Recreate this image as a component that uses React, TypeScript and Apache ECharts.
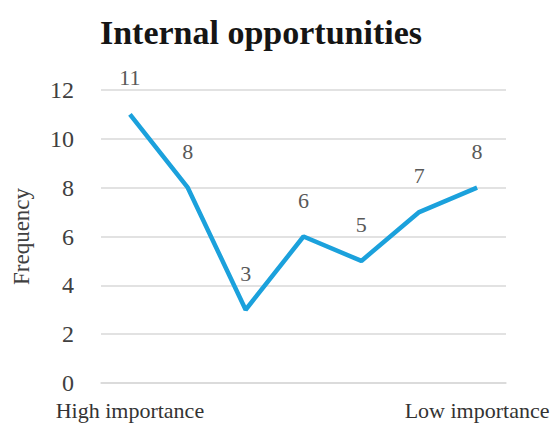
import React, { useEffect, useRef } from "react";
import * as echarts from "echarts";

const categories = ["High importance", "", "", "", "", "", "Low importance"];
const frequency = [11, 8, 3, 6, 5, 7, 8];
const yTicks = { min: 0, max: 12, interval: 2 };

const FONT = "'Liberation Serif', 'DejaVu Serif', serif";

export default function App() {
  const ref = useRef<HTMLDivElement>(null);
  useEffect(() => {
    if (!ref.current) return;
    const chart = echarts.init(ref.current, undefined, { renderer: "svg" });
    chart.setOption({
      animation: false,
      backgroundColor: "#ffffff",
      title: {
        text: "Internal opportunities",
        left: 256,
        textAlign: "center",
        top: 10,
        textStyle: { fontFamily: FONT, fontSize: 34, fontWeight: "bold", color: "#151515" },
      },
      grid: { left: 101, right: 49, top: 90, bottom: 40, containLabel: false },
      xAxis: {
        type: "category",
        data: categories,
        boundaryGap: true,
        axisLine: { show: true, lineStyle: { color: "#d9d9d9", width: 1.5 } },
        axisTick: { show: false },
        axisLabel: {
          interval: 0,
          margin: 16,
          fontFamily: FONT,
          fontSize: 22,
          color: "#333333",
        },
      },
      yAxis: {
        type: "value",
        min: yTicks.min,
        max: yTicks.max,
        interval: yTicks.interval,
        name: "Frequency",
        nameLocation: "middle",
        nameGap: 68,
        nameRotate: 90,
        nameTextStyle: { fontFamily: FONT, fontSize: 23, color: "#404040" },
        axisLine: { show: false },
        axisTick: { show: false },
        splitLine: { lineStyle: { color: "#d9d9d9", width: 1.5 } },
        axisLabel: { fontFamily: FONT, fontSize: 24, color: "#404040", margin: 27 },
      },
      series: [
        {
          type: "line",
          data: frequency,
          showSymbol: true,
          symbol: "circle",
          symbolSize: 1,
          itemStyle: { opacity: 0 },
          lineStyle: { color: "#1ba1dc", width: 4.5 },
          label: {
            show: true,
            position: "top",
            distance: 25,
            fontFamily: FONT,
            fontSize: 22,
            color: "#595959",
            opacity: 1,
          },
        },
      ],
    });
    return () => chart.dispose();
  }, []);
  return <div ref={ref} style={{ width: 555, height: 423, position: "absolute", left: 0, top: 0 }} />;
}
